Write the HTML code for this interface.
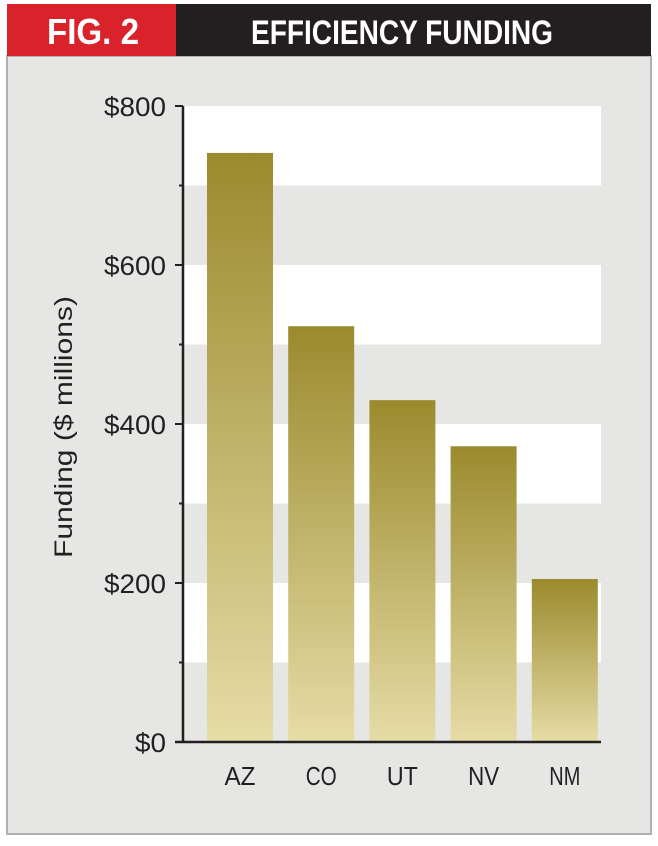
<!DOCTYPE html>
<html><head><meta charset="utf-8"><style>
body{margin:0;background:#fff;width:658px;height:841px;overflow:hidden;font-family:"Liberation Sans",sans-serif}
</style></head><body>
<svg width="658" height="841" xmlns="http://www.w3.org/2000/svg">
<defs><linearGradient id="g" x1="0" y1="0" x2="0" y2="1"><stop offset="0" stop-color="#9b8a2d"/><stop offset="1" stop-color="#e6dca6"/></linearGradient></defs>
<rect x="7" y="56" width="644" height="778" fill="#e6e7e5" stroke="#b0b1af" stroke-width="2"/>
<rect x="7" y="4" width="169" height="52" fill="#d9222a"/>
<rect x="176" y="4" width="475" height="52" fill="#231f20"/>
<text x="93" y="44" text-anchor="middle" fill="#fff" font-weight="bold" font-size="36" textLength="92" lengthAdjust="spacingAndGlyphs">FIG. 2</text>
<text x="402" y="44" text-anchor="middle" fill="#fff" font-weight="bold" font-size="34" textLength="302" lengthAdjust="spacingAndGlyphs">EFFICIENCY FUNDING</text>
<g id="plot"></g>
<text transform="translate(72,427) rotate(-90)" text-anchor="middle" font-size="25" fill="#231f20" textLength="262" lengthAdjust="spacingAndGlyphs">Funding ($ millions)</text>
</svg>
<script>
const categories=["AZ","CO","UT","NV","NM"];
const values=[741,523,430,372,205];
const ticks=[0,200,400,600,800];
const tickLabels=["$0","$200","$400","$600","$800"];
const NS="http://www.w3.org/2000/svg";
const g=document.getElementById('plot');
const x0=183,x1=601,y0=742,y1=106,max=800;
const y=v=>y0-(v/max)*(y0-y1);
const step=81.2;
const xc=i=>x0+57+step*i;
function mk(t,a){const e=document.createElementNS(NS,t);for(const k in a)e.setAttribute(k,a[k]);g.appendChild(e);return e;}
for(let v=0;v<max;v+=100){
 const r=mk('rect',{x:x0,y:y(v+100),width:x1-x0,height:y(v)-y(v+100),fill:(v/100)%2?'#ffffff':'#e6e7e5'});
 
 
}
categories.forEach((c,i)=>{
 const r=mk('rect',{x:xc(i)-33,y:y(values[i]),width:66,height:y0-y(values[i]),fill:'url(#g)'});
 
 
 const t=mk('text',{x:xc(i),y:785,'text-anchor':'middle','font-size':'26',fill:'#231f20',textLength:c.length*15.5,lengthAdjust:'spacingAndGlyphs'});
 t.textContent=c;
 
 
});
for(let v=100;v<max;v+=200){
 const l=mk('line',{x1:x0-4,x2:x0,y1:y(v),y2:y(v),stroke:'#231f20','stroke-width':2});
 
 
}
ticks.forEach((v,i)=>{
 const l=mk('line',{x1:x0-8,x2:x0,y1:y(v),y2:y(v),stroke:'#231f20','stroke-width':2});
 
 
 const t=mk('text',{x:x0-17,y:y(v)+10,'text-anchor':'end','font-size':'27',fill:'#231f20',textLength:tickLabels[i].length*15.5,lengthAdjust:'spacingAndGlyphs'});
 t.textContent=tickLabels[i];
 
 
});
const ax=mk('line',{x1:x0,x2:x0,y1:y1,y2:y0,stroke:'#231f20','stroke-width':2.5});


const bx=mk('line',{x1:x0-8,x2:x1,y1:y0,y2:y0,stroke:'#231f20','stroke-width':2.5});


</script>
</body></html>
